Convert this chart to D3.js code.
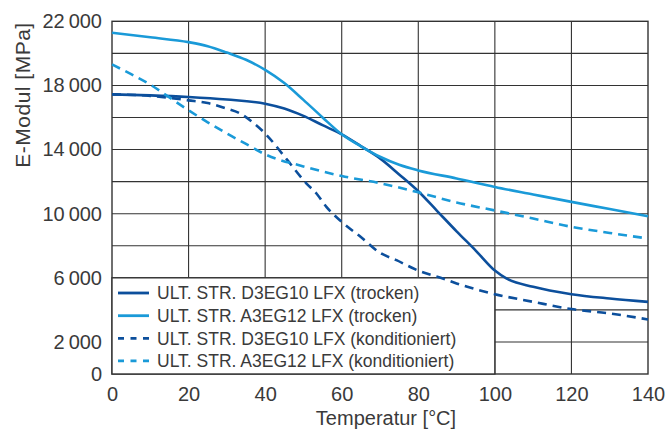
<!DOCTYPE html>
<html>
<head>
<meta charset="utf-8">
<script src="https://cdn.jsdelivr.net/npm/d3@7"></script>
<style>
  html, body { margin: 0; padding: 0; background: #fff; }
  svg { display: block; }
  text { font-family: "Liberation Sans", Arial, Helvetica, sans-serif; fill: #3a3a3a; }
</style>
</head>
<body>
<svg id="chart" width="672" height="430"></svg>
<script>
// ---- data ----
const xTicks = [0, 20, 40, 60, 80, 100, 120, 140];
const yTicks = [0, 2000, 6000, 10000, 14000, 18000, 22000];
const yGrid = [2000, 4000, 6000, 8000, 10000, 12000, 14000, 16000, 18000, 20000];
const xGrid = [20, 40, 60, 80, 100, 120];

const seriesNames = [
  "ULT. STR. D3EG10 LFX (trocken)",
  "ULT. STR. A3EG12 LFX (trocken)",
  "ULT. STR. D3EG10 LFX (konditioniert)",
  "ULT. STR. A3EG12 LFX (konditioniert)"
];

const d3eg10Dry = [
  [0, 17440], [10, 17380], [20, 17280], [30, 17120], [40, 16860], [45, 16560],
  [50, 16100], [55, 15520], [60, 14950], [65, 14220], [70, 13450], [75, 12450],
  [80, 11400], [85, 10150], [90, 8900], [95, 7700], [100, 6450], [103, 5960],
  [110, 5440], [120, 4980], [130, 4710], [140, 4500]
];
const a3eg12Dry = [
  [0, 21290], [10, 21000], [20, 20700], [25, 20450], [30, 20050], [35, 19600],
  [40, 18970], [45, 18150], [50, 17100], [55, 16000], [60, 14950], [65, 14200],
  [70, 13550], [75, 13050], [80, 12700], [90, 12200], [100, 11670], [110, 11200],
  [120, 10735], [130, 10290], [140, 9840]
];
const d3eg10Cond = [
  [0, 17440], [10, 17350], [20, 17070], [25, 16900], [30, 16550], [33.4, 16260],
  [37, 15650], [40, 15000], [45.6, 13400], [50.8, 11880], [53.4, 11260], [56, 10420],
  [60, 9490], [65, 8540], [70, 7560], [74.3, 7100], [80, 6450], [86.4, 5960],
  [90, 5650], [100, 4980], [110, 4500], [120, 4050], [130, 3780], [140, 3400]
];
const a3eg12Cond = [
  [0, 19310], [5, 18700], [10, 18050], [15, 17250], [20, 16450], [25, 15700],
  [30, 15000], [35, 14350], [40, 13700], [50, 12950], [60, 12350], [70, 11900],
  [80, 11330], [90, 10700], [100, 10200], [110, 9700], [120, 9180], [130, 8800],
  [140, 8450]
];

const seriesData = [d3eg10Dry, a3eg12Dry, d3eg10Cond, a3eg12Cond];
const seriesColors = ["#0c4f9c", "#1a9ad8", "#0c4f9c", "#1a9ad8"];
const seriesDashed = [false, false, true, true];

// ---- layout ----
const svg = d3.select("#chart");
const x = d3.scaleLinear().domain([0, 140]).range([112, 648]);
const y = d3.scaleLinear().domain([0, 22000]).range([374, 21.3]);
const gridColor = "#333";

// grid
svg.append("g").selectAll("line").data(yGrid).join("line")
  .attr("x1", x(0)).attr("x2", x(140))
  .attr("y1", d => y(d)).attr("y2", d => y(d))
  .attr("stroke", gridColor).attr("stroke-width", 1.1);
svg.append("g").selectAll("line").data(xGrid).join("line")
  .attr("x1", d => x(d)).attr("x2", d => x(d))
  .attr("y1", y(0)).attr("y2", y(22000))
  .attr("stroke", gridColor).attr("stroke-width", 1.1);

// frame
svg.append("rect")
  .attr("x", x(0)).attr("y", y(22000))
  .attr("width", x(140) - x(0)).attr("height", y(0) - y(22000))
  .attr("fill", "none").attr("stroke", gridColor).attr("stroke-width", 1.4);

// legend box (covers lower-left grid)
svg.append("rect")
  .attr("x", x(0)).attr("y", y(6000))
  .attr("width", x(100) - x(0)).attr("height", y(0) - y(6000))
  .attr("fill", "#fff").attr("stroke", gridColor).attr("stroke-width", 1.4);

// axes
const fmt = d => d >= 1000 ? d3.format(",")(d).replace(",", "\u2009") : String(d);
const yAxis = svg.append("g").attr("transform", `translate(${x(0)},0)`)
  .call(d3.axisLeft(y).tickValues(yTicks).tickSize(0).tickPadding(10).tickFormat(fmt));
const xAxis = svg.append("g").attr("transform", `translate(0,${y(0)})`)
  .call(d3.axisBottom(x).tickValues(xTicks).tickSize(0).tickPadding(13));
[yAxis, xAxis].forEach(g => {
  g.select(".domain").remove();
  g.selectAll("text").attr("font-size", 20).attr("fill", "#3a3a3a")
    .attr("font-family", "'Liberation Sans', Arial, sans-serif");
});

// titles
svg.append("text").attr("x", 386).attr("y", 425).attr("text-anchor", "middle")
  .attr("font-size", 20).text("Temperatur [°C]");
svg.append("text").attr("transform", "translate(30,95) rotate(-90)")
  .attr("text-anchor", "middle").attr("font-size", 21).attr("letter-spacing", 0.5)
  .text("E-Modul [MPa]");

// lines
const line = d3.line().x(d => x(d[0])).y(d => y(d[1])).curve(d3.curveMonotoneX);
seriesData.forEach((data, i) => {
  svg.append("path").datum(data)
    .attr("d", line)
    .attr("fill", "none")
    .attr("stroke", seriesColors[i])
    .attr("stroke-width", 2.6)
    .attr("stroke-dasharray", seriesDashed[i] ? "9,6" : null);
});

// legend entries
const legendRowY = [293, 315.7, 338.3, 360.8];
const leg = svg.append("g").selectAll("g").data(seriesNames).join("g")
  .attr("transform", (d, i) => `translate(0,${legendRowY[i]})`);
leg.append("line")
  .attr("x1", 118).attr("x2", 149).attr("y1", 0).attr("y2", 0)
  .attr("stroke", (d, i) => seriesColors[i])
  .attr("stroke-width", 2.8)
  .attr("stroke-dasharray", (d, i) => seriesDashed[i] ? "6,6.5" : null);
leg.append("text")
  .attr("x", 157).attr("y", 0).attr("dy", "0.36em")
  .attr("font-size", 17.5)
  .text(d => d);
</script>
</body>
</html>
